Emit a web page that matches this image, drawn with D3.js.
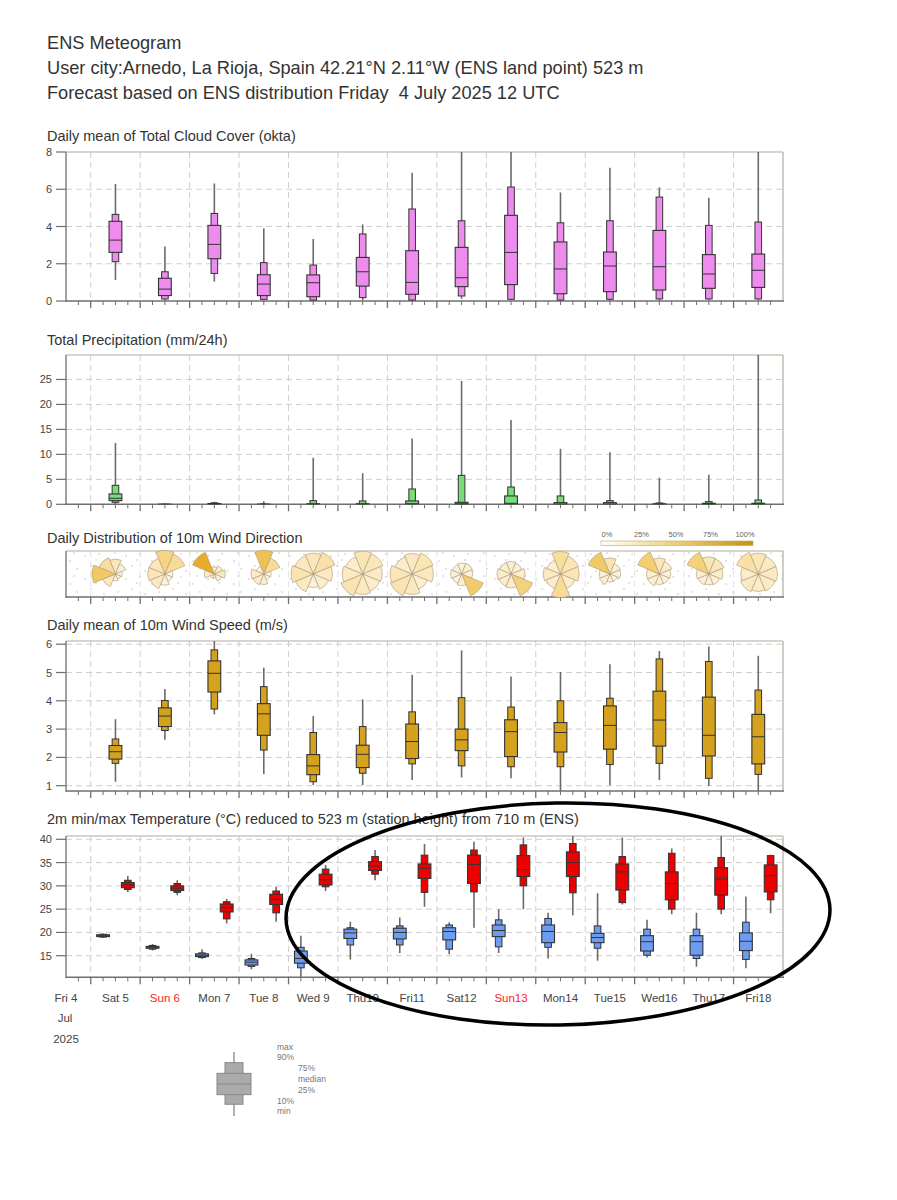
<!DOCTYPE html>
<html><head><meta charset="utf-8">
<script src="https://cdn.jsdelivr.net/npm/d3@7"></script>
<style>body{margin:0;background:#fff} text{font-family:"Liberation Sans",Arial,Helvetica,sans-serif;white-space:pre}</style>
</head><body><svg id="c" width="897" height="1200"></svg>
<script>
// ---------------- DATA ----------------
const titleLines = [
  "ENS Meteogram",
  "User city:Arnedo, La Rioja, Spain 42.21\u00b0N 2.11\u00b0W (ENS land point) 523 m",
  "Forecast based on ENS distribution Friday  4 July 2025 12 UTC"
];
const dayLabels = ["Fri 4","Sat 5","Sun 6","Mon 7","Tue 8","Wed 9","Thu10","Fri11","Sat12","Sun13","Mon14","Tue15","Wed16","Thu17","Fri18"];
const redDayLabels = ["Sun 6","Sun13"];
const forecastDates = [5,6,7,8,9,10,11,12,13,14,15,16,17,18]; // July 2025
// stats order: [min, p10, p25, median, p75, p90, max]
const cloudStats = [
  [1.13,2.11,2.61,3.27,4.28,4.65,6.28],
  [0.04,0.11,0.29,0.64,1.22,1.57,2.92],
  [1.04,1.48,2.27,3.04,4.06,4.70,6.31],
  [0.05,0.09,0.29,0.91,1.41,2.06,3.90],
  [0.02,0.05,0.23,0.98,1.40,1.93,3.33],
  [0.05,0.18,0.80,1.57,2.34,3.60,4.11],
  [0.00,0.05,0.36,1.00,2.70,4.94,6.89],
  [0.12,0.27,0.77,1.25,2.88,4.31,8.00],
  [0.05,0.09,0.88,2.61,4.60,6.12,8.00],
  [0.00,0.05,0.39,1.72,3.17,4.20,5.83],
  [0.02,0.09,0.50,1.88,2.63,4.31,7.16],
  [0.02,0.11,0.59,1.84,3.79,5.58,6.10],
  [0.04,0.11,0.68,1.45,2.49,4.06,5.55],
  [0.04,0.11,0.73,1.65,2.52,4.24,8.00]
];
const precipStats = [
  [0.05,0.40,0.73,1.20,2.07,3.80,12.3],
  [0,0,0,0,0,0,0.15],
  [0,0,0,0,0.15,0.30,0.50],
  [0,0,0,0,0,0.05,0.60],
  [0,0,0,0,0.10,0.73,9.3],
  [0,0,0,0,0.10,0.67,6.2],
  [0,0,0.05,0.10,0.67,3.07,13.2],
  [0,0,0.05,0.10,0.40,5.80,24.7],
  [0,0.02,0.05,0.20,1.67,3.47,16.9],
  [0,0,0,0.05,0.33,1.67,11.1],
  [0,0,0,0.05,0.33,0.73,10.4],
  [0,0,0,0,0.10,0.27,5.3],
  [0,0,0,0.02,0.20,0.53,5.9],
  [0,0,0,0.05,0.20,0.87,31]
];
const windStats = [
  [1.14,1.79,1.94,2.20,2.42,2.65,3.35],
  [2.62,2.95,3.09,3.46,3.75,4.01,4.42],
  [3.52,3.71,4.31,4.97,5.41,5.80,6.13],
  [1.41,2.26,2.78,3.54,3.90,4.50,5.17],
  [1.02,1.14,1.39,1.70,2.10,2.88,3.46],
  [1.02,1.44,1.64,2.11,2.43,3.09,4.05],
  [1.20,1.77,1.96,2.56,3.18,3.61,4.92],
  [1.29,1.70,2.24,2.62,3.00,4.11,5.78],
  [1.26,1.67,2.03,2.91,3.33,3.78,4.86],
  [0.80,1.67,2.19,2.88,3.23,4.00,5.02],
  [1.02,1.75,2.29,3.13,3.82,4.09,5.29],
  [1.20,1.79,2.40,3.32,4.34,5.48,5.76],
  [0.99,1.26,2.05,2.78,4.13,5.39,5.92],
  [0.80,1.40,1.77,2.73,3.52,4.38,5.59]
];
const tminStats = [
  [18.8,19.0,19.1,19.3,19.5,19.6,19.8],
  [16.1,16.4,16.6,16.8,17.0,17.2,17.5],
  [14.3,14.6,14.8,15.1,15.4,15.6,16.4],
  [12.1,12.7,13.0,13.6,14.1,14.4,15.4],
  [10.4,12.4,13.4,14.4,16.0,16.8,19.3],
  [14.2,17.3,18.7,19.9,20.7,21.0,22.3],
  [15.6,17.3,18.6,20.0,20.9,21.4,23.2],
  [15.3,16.4,18.4,20.2,21.0,21.6,22.2],
  [15.6,16.9,19.1,20.4,21.6,22.7,25.0],
  [14.4,16.8,17.8,20.2,21.6,23.0,24.2],
  [13.9,16.6,17.8,18.9,19.8,21.4,28.4],
  [14.6,15.1,16.0,18.0,19.3,20.7,22.7],
  [12.6,14.4,15.1,18.0,19.3,20.7,24.2],
  [12.3,14.2,16.1,18.1,19.9,22.2,27.7]
];
const tmaxStats = [
  [28.7,29.2,29.6,30.2,30.7,31.2,32.1],
  [28.0,28.6,29.0,29.5,30.0,30.5,31.2],
  [21.9,22.9,24.4,25.3,26.1,26.6,27.2],
  [22.3,24.2,26.0,27.1,28.2,28.9,29.8],
  [28.9,29.8,30.2,31.3,32.5,33.6,34.5],
  [31.2,32.5,33.3,34.3,35.2,36.3,37.7],
  [25.5,28.6,31.6,33.8,34.7,36.6,39.0],
  [21.0,28.7,30.5,34.6,36.6,37.7,39.5],
  [25.0,30.0,32.0,33.5,36.5,38.8,40.4],
  [23.7,28.5,32.0,35.0,37.3,39.1,41.0],
  [26.0,26.4,29.1,33.0,34.7,36.3,40.4],
  [23.9,25.0,27.0,30.5,33.0,37.0,38.0],
  [23.9,25.0,28.0,31.5,33.9,36.1,41.0],
  [24.1,27.0,28.7,32.2,34.5,36.5,36.7]
];
// wind direction frequency (%) per sector: N, NE, E, SE, S, SW, W, NW
const windDirPct = [
  [14, 8, 3, 2, 3,12,35,20],
  [26,22, 3, 3, 6,12,14,14],
  [ 5, 8,12, 6, 2, 2,10,55],
  [40,22, 4, 3, 8,10,12, 5],
  [14,18,12, 9, 6,12,16,13],
  [15,14,11,10,12,16,12,10],
  [12,15,13, 8,12,16,14,10],
  [ 7, 8, 7,32, 8, 6, 7, 6],
  [ 8, 7,10,28,10, 9,10, 8],
  [20,15,14,10,22,10,12, 9],
  [16, 8, 7, 4, 4, 8, 7,34],
  [14,10, 7, 6, 6, 9, 9,30],
  [15,14,10, 7, 6, 7, 8,28],
  [14,12,12,11,10,12,10,18]
];
const windLegendTicks = ["0%","25%","50%","75%","100%"];
const yTicksCloud = [0,2,4,6,8];
const yTicksPrecip = [0,5,10,15,20,25];
const yTicksWind = [1,2,3,4,5,6];
const yTicksTemp = [15,20,25,30,35,40];
const legendLabels = ["max","90%","75%","median","25%","10%","min"];

// ---------------- DRAWING ----------------
const svg = d3.select("#c");
svg.append("rect").attr("width",897).attr("height",1200).attr("fill","#fff");

const x = d3.scaleUtc()
  .domain([Date.UTC(2025,6,4,12), Date.UTC(2025,6,19,0)])
  .range([66, 783]);
const X0 = 66, X1 = 783;
const noon = d => new Date(Date.UTC(2025,6,d,12));
const at = (d,h) => new Date(Date.UTC(2025,6,d,h));

// titles
titleLines.forEach((t,i)=>{
  svg.append("text").attr("x",47).attr("y",49+25*i).attr("font-size",18.2)
    .attr("fill","#333").text(t);
});

const midnights = d3.range(5,19).map(d=>at(d,0));
const sixHours = d3.utcHour.every(6).range(at(4,18), at(19,0));

function panel(p){
  const g = svg.append("g");
  g.append("text").attr("x",47).attr("y",p.titleY).attr("font-size",14.5)
    .attr("fill","#333").text(p.title);
  if(p.y){
    p.ticks.forEach(t=>{
      const yy = p.y(t);
      if(Math.abs(yy-p.top)>1 && Math.abs(yy-p.bottom)>1)
        g.append("line").attr("x1",X0).attr("x2",X1).attr("y1",yy).attr("y2",yy)
          .attr("stroke","#cfcfcf").attr("stroke-dasharray","6,4").attr("stroke-width",1);
    });
  }
  midnights.forEach(m=>{
    g.append("line").attr("x1",x(m)).attr("x2",x(m)).attr("y1",p.top).attr("y2",p.bottom)
      .attr("stroke", p.y ? "#cfcfcf" : "#e2e2e2").attr("stroke-dasharray","6,4");
  });
  g.append("line").attr("x1",X0).attr("x2",X1).attr("y1",p.top).attr("y2",p.top).attr("stroke","#b3ab9c").attr("stroke-width",1.2);
  g.append("line").attr("x1",X1).attr("x2",X1).attr("y1",p.top).attr("y2",p.bottom).attr("stroke","#b3ab9c").attr("stroke-width",1.2);
  g.append("line").attr("x1",X0).attr("x2",X0).attr("y1",p.top).attr("y2",p.bottom+1).attr("stroke","#6f6f6f").attr("stroke-width",1.3);
  g.append("line").attr("x1",X0).attr("x2",X1+1).attr("y1",p.bottom).attr("y2",p.bottom).attr("stroke","#6f6f6f").attr("stroke-width",1.5);
  sixHours.forEach(t=>{
    const major = t.getUTCHours()===0;
    g.append("line").attr("x1",x(t)).attr("x2",x(t)).attr("y1",p.bottom).attr("y2",p.bottom+(major?7:4))
      .attr("stroke","#6f6f6f").attr("stroke-width",major?1.3:1);
  });
  if(p.y){
    p.ticks.forEach(t=>{
      const yy = p.y(t);
      g.append("line").attr("x1",56).attr("x2",X0).attr("y1",yy).attr("y2",yy).attr("stroke","#6f6f6f").attr("stroke-width",1.2);
      g.append("text").attr("x",52).attr("y",yy+4).attr("text-anchor","end").attr("font-size",11)
        .attr("fill","#444").text(t);
    });
  }
  const id = "clip"+Math.round(p.top);
  svg.append("clipPath").attr("id",id).append("rect").attr("x",X0).attr("y",p.top).attr("width",X1-X0).attr("height",p.bottom-p.top);
  return g.append("g").attr("clip-path",`url(#${id})`);
}

function boxes(g, stats, dates, hour, y, fill){
  stats.forEach((s,i)=>{
    const cx = x(at(dates[i],hour));
    const [mn,p10,p25,md,p75,p90,mx] = s;
    g.append("line").attr("x1",cx).attr("x2",cx).attr("y1",y(mn)).attr("y2",y(mx))
      .attr("stroke","#6a6a6a").attr("stroke-width",1.6);
    g.append("rect").attr("x",cx-3.3).attr("width",6.6).attr("y",y(p90)).attr("height",Math.max(0.6,y(p10)-y(p90)))
      .attr("fill",fill).attr("stroke","#333").attr("stroke-width",1);
    g.append("rect").attr("x",cx-6.4).attr("width",12.8).attr("y",y(p75)).attr("height",Math.max(0.6,y(p25)-y(p75)))
      .attr("fill",fill).attr("stroke","#333").attr("stroke-width",1.1);
    g.append("line").attr("x1",cx-6.4).attr("x2",cx+6.4).attr("y1",y(md)).attr("y2",y(md))
      .attr("stroke","#333").attr("stroke-width",1);
  });
}

// Cloud
const yCloud = d3.scaleLinear().domain([0,8]).range([301,152]);
const gCloud = panel({top:152,bottom:301,y:yCloud,ticks:yTicksCloud,title:"Daily mean of Total Cloud Cover (okta)",titleY:141});
boxes(gCloud, cloudStats, forecastDates, 12, yCloud, "#ee8cee");

// Precip
const yPrecip = d3.scaleLinear().domain([0,29.9]).range([504.3,355]);
const gPrecip = panel({top:355,bottom:504.3,y:yPrecip,ticks:yTicksPrecip,title:"Total Precipitation (mm/24h)",titleY:345});
boxes(gPrecip, precipStats, forecastDates, 12, yPrecip, "#77dd77");

// Wind direction
const defs = svg.append("defs");
const pat = defs.append("pattern").attr("id","dots").attr("patternUnits","userSpaceOnUse")
  .attr("width",41).attr("height",23);
[[3,4],[17,2],[29,9],[9,14],[36,17],[22,19],[14,8],[33,1]].forEach(([a,b])=>{
  pat.append("circle").attr("cx",a).attr("cy",b).attr("r",0.7).attr("fill","#b4b4b4");
});
const gDir = panel({top:551,bottom:597,y:null,ticks:[],title:"Daily Distribution of 10m Wind Direction",titleY:543});
gDir.append("rect").attr("x",X0).attr("y",551).attr("width",X1-X0).attr("height",46).attr("fill","url(#dots)");
const roseColor = d3.scaleLinear().domain([0,12,30,60]).range(["#fffaf0","#fbe9c2","#f3cf72","#e4a51c"]).clamp(true);
const arc = d3.arc().innerRadius(0);
windDirPct.forEach((pcts,i)=>{
  const cx = x(noon(forecastDates[i])), cy = 574;
  const mx = d3.max(pcts);
  const rS = d3.scaleSqrt().domain([0,mx]).range([0,23.5]);
  const rg = svg.append("g").attr("transform",`translate(${cx},${cy})`);
  pcts.forEach((p,k)=>{
    const a0 = (k*45-22.5)*Math.PI/180;
    rg.append("path").attr("d",arc({outerRadius:rS(p),startAngle:a0,endAngle:a0+Math.PI/4}))
      .attr("fill",roseColor(p)).attr("stroke","#a8977a").attr("stroke-width",0.6);
  });
});
const lg = defs.append("linearGradient").attr("id","wgrad");
lg.append("stop").attr("offset","0%").attr("stop-color","#ffffff");
lg.append("stop").attr("offset","40%").attr("stop-color","#f3d98c");
lg.append("stop").attr("offset","100%").attr("stop-color","#c8900e");
svg.append("rect").attr("x",601).attr("y",541).attr("width",152).attr("height",4.5)
  .attr("fill","url(#wgrad)").attr("stroke","#b9a77a").attr("stroke-width",0.6);
windLegendTicks.forEach((t,i)=>{
  svg.append("text").attr("x",607+i*34.5).attr("y",537).attr("text-anchor","middle")
    .attr("font-size",7.5).attr("fill","#666").text(t);
});

// Wind speed
const yWind = d3.scaleLinear().domain([1,6]).range([785.7,644.2]);
const gWind = panel({top:641,bottom:791,y:yWind,ticks:yTicksWind,title:"Daily mean of 10m Wind Speed (m/s)",titleY:630});
boxes(gWind, windStats, forecastDates, 12, yWind, "#d4a21c");

// Temperature
const yTemp = d3.scaleLinear().domain([15,40]).range([955.7,839.3]);
const gTemp = panel({top:836,bottom:977.3,y:yTemp,ticks:yTicksTemp,title:"2m min/max Temperature (\u00b0C) reduced to 523 m (station height) from 710 m (ENS)",titleY:824});
boxes(gTemp, tminStats, forecastDates, 6, yTemp, "#6d9cf0");
boxes(gTemp, tmaxStats, forecastDates, 18, yTemp, "#ee0000");

// x labels
dayLabels.forEach((l,i)=>{
  svg.append("text").attr("x",x(noon(4+i))).attr("y",1002).attr("text-anchor","middle")
    .attr("font-size",11.5).attr("fill", redDayLabels.includes(l)?"#ff2020":"#444").text(l);
});
svg.append("text").attr("x",65).attr("y",1022).attr("text-anchor","middle").attr("font-size",11.5).attr("fill","#444").text("Jul");
svg.append("text").attr("x",66).attr("y",1043).attr("text-anchor","middle").attr("font-size",11.5).attr("fill","#444").text("2025");

// box legend
const lgY = d3.scaleLinear().domain([0,6]).range([1116,1052]);
const legendStats = [0,1.1,2.0,3.0,4.0,5.0,6.0];
const lcx = 234;
svg.append("line").attr("x1",lcx).attr("x2",lcx).attr("y1",lgY(legendStats[0])).attr("y2",lgY(legendStats[6])).attr("stroke","#888").attr("stroke-width",1.3);
svg.append("rect").attr("x",lcx-9).attr("width",18).attr("y",lgY(legendStats[5])).attr("height",lgY(legendStats[1])-lgY(legendStats[5])).attr("fill","#aaa").attr("stroke","#888");
svg.append("rect").attr("x",lcx-17).attr("width",34).attr("y",lgY(legendStats[4])).attr("height",lgY(legendStats[2])-lgY(legendStats[4])).attr("fill","#aaa").attr("stroke","#888");
svg.append("line").attr("x1",lcx-17).attr("x2",lcx+17).attr("y1",lgY(3)).attr("y2",lgY(3)).attr("stroke","#888");
const lpos = [[277,1050],[277,1060],[298,1071],[298,1082],[298,1093],[277,1104],[277,1114]];
legendLabels.forEach((t,i)=>{
  svg.append("text").attr("x",lpos[i][0]).attr("y",lpos[i][1]).attr("font-size",8.5).attr("fill","#777").text(t);
});

// annotation ellipse
svg.append("ellipse").attr("cx",558).attr("cy",914).attr("rx",272).attr("ry",111)
  .attr("fill","none").attr("stroke","#000").attr("stroke-width",3.5)
  .attr("transform","rotate(-1 558 914)");
</script></body></html>
